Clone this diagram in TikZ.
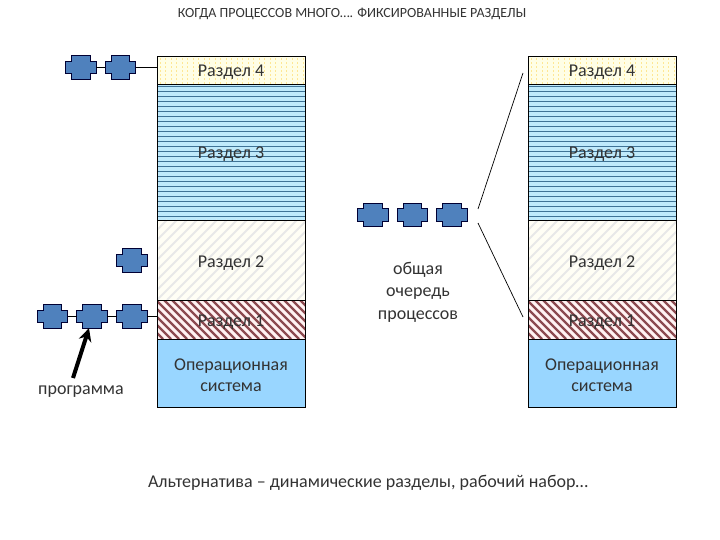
\documentclass[tikz,border=0pt]{standalone}
\usepackage{fontspec}
\setmainfont{Carlito}
\usepackage{xcolor}
\usepackage{tikz}
\usetikzlibrary{arrows.meta, positioning}
\definecolor{procblue}{HTML}{4F81BD}
\definecolor{oneline}{HTML}{8C4A50}
\definecolor{threeline}{HTML}{3F7396}
\tikzset{
    section/.style={rectangle, draw=black, line width=0.8pt, outer sep=0pt, minimum width=148pt, inner sep=0pt, align=center, font=\fontsize{18}{21.5}\selectfont, text=black!80},
    sectext/.style={text height=14pt, text depth=0pt},
    sec4/.style={section, sectext, minimum height=28pt, fill=yellow!10, path picture={
        \foreach \d in {3,8.5,...,148}
            \draw[yellow!60!orange!40, line width=0.9pt, dash pattern=on 2pt off 2pt] ([xshift=\d pt]path picture bounding box.south west) -- ([xshift=\d pt]path picture bounding box.north west);}},
    sec3/.style={section, sectext, minimum height=136pt, fill=cyan!25, path picture={
        \foreach \d in {2,7,...,136}
            \draw[threeline, line width=0.9pt] ([yshift=-\d pt]path picture bounding box.north west) -- ([yshift=-\d pt]path picture bounding box.north east);}},
    sec2/.style={section, sectext, minimum height=80pt, fill=yellow!4, path picture={
        \foreach \d in {-80,-70,...,150}
            \draw[black!9, line width=2pt] ([xshift=\d pt]path picture bounding box.south west) -- ++(80pt,80pt);}},
    sec1/.style={section, sectext, minimum height=39pt, fill=red!5, path picture={
        \foreach \d in {-10,-2,...,190}
            \draw[oneline, line width=2.2pt] ([xshift=\d pt]path picture bounding box.south west) -- ++(-39pt,39pt);}},
    secos/.style={section, text height=38pt, minimum height=68pt, fill=blue!40!cyan!40},
    proc/.style={rectangle, minimum width=30pt, minimum height=23pt, inner sep=0pt, append after command={
        \pgfextra{\draw[black!80!blue, line width=0.8pt, fill=procblue]
            ([xshift=6pt]\tikzlastnode.north west) -- ([xshift=-6pt]\tikzlastnode.north east)
            -- ([xshift=-6pt, yshift=-5.5pt]\tikzlastnode.north east) -- ([yshift=-5.5pt]\tikzlastnode.north east)
            -- ([yshift=5.5pt]\tikzlastnode.south east) -- ([xshift=-6pt, yshift=5.5pt]\tikzlastnode.south east)
            -- ([xshift=-6pt]\tikzlastnode.south east) -- ([xshift=6pt]\tikzlastnode.south west)
            -- ([xshift=6pt, yshift=5.5pt]\tikzlastnode.south west) -- ([yshift=5.5pt]\tikzlastnode.south west)
            -- ([yshift=-5.5pt]\tikzlastnode.north west) -- ([xshift=6pt, yshift=-5.5pt]\tikzlastnode.north west)
            -- cycle;}}},
    label/.style={align=center, inner sep=0pt, font=\fontsize{18}{22.5}\selectfont, text=black!80},
    link/.style={draw=black, line width=0.7pt},
    arrow/.style={line width=4pt, -{Stealth[length=13pt, width=13pt]}}
}
\begin{document}
\begin{tikzpicture}[x=1pt, y=-1pt]
    \useasboundingbox (0,0) rectangle (720,540);
    \node (title) [inner sep=0pt, font=\fontsize{14}{16}\selectfont, text=black!80] at (352,14) {КОГДА ПРОЦЕССОВ МНОГО…. ФИКСИРОВАННЫЕ РАЗДЕЛЫ};

    % left column
    \node (lfour) [sec4] at (231,70) {Раздел 4};
    \node (lthree) [sec3, below=0pt of lfour] {Раздел 3};
    \node (ltwo) [sec2, below=0pt of lthree] {Раздел 2};
    \node (lone) [sec1, below=0pt of ltwo] {Раздел 1};
    \node (los) [secos, below=0pt of lone] {Операционная\\система};

    % right column
    \node (rfour) [sec4] at (602,70) {Раздел 4};
    \node (rthree) [sec3, below=0pt of rfour] {Раздел 3};
    \node (rtwo) [sec2, below=0pt of rthree] {Раздел 2};
    \node (rone) [sec1, below=0pt of rtwo] {Раздел 1};
    \node (ros) [secos, below=0pt of rone] {Операционная\\система};

    % processes
    \node (a1) [proc] at (81,67.5) {};
    \node (a2) [proc] at (120.5,67.5) {};
    \node (b1) [proc] at (132,260.5) {};
    \node (c1) [proc] at (52.5,316.5) {};
    \node (c2) [proc] at (92,316.5) {};
    \node (c3) [proc] at (132,316.5) {};
    \node (q1) [proc] at (373,215) {};
    \node (q2) [proc] at (412.5,215) {};
    \node (q3) [proc] at (452,215) {};

    \draw [link] (a1) -- (a2);
    \draw [link] (a2) -- (a2 -| lfour.west);
    \draw [link] (c1) -- (c2);
    \draw [link] (c2) -- (c3);
    \draw [link] (c3) -- (c3 -| lone.west);

    % labels
    \node (prog) [label] at (81,392) {программа};
    \node (queue) [label] at (418,292) {общая\\очередь\\процессов};
    \node (alt) [label] at (368,483) {Альтернатива – динамические разделы, рабочий набор…};

    % fan towards the right column
    \coordinate (fantop) at (478,209);
    \coordinate (fanlow) at (478,223);
    \coordinate (rtop) at (523,73);
    \coordinate (rlow) at (523,317);
    \draw [link] (fantop) -- (rtop);
    \draw [link] (fanlow) -- (rlow);

    \coordinate (progtail) at (73,378);
    \draw [arrow] (progtail) -- ([xshift=-3pt]c2.south);
\end{tikzpicture}
\end{document}
